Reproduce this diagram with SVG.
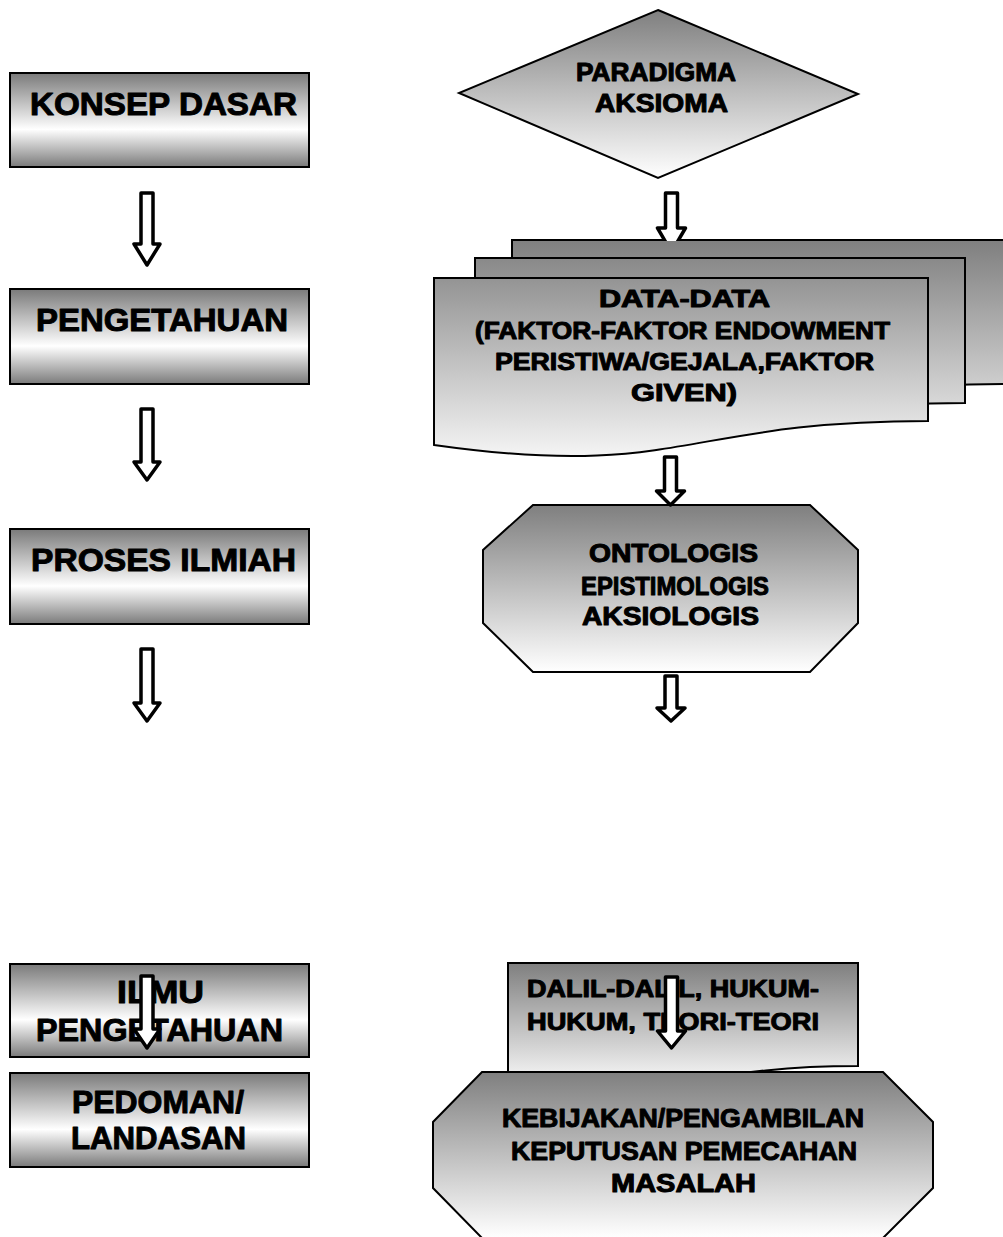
<svg xmlns="http://www.w3.org/2000/svg" width="1003" height="1237" viewBox="0 0 1003 1237">
  <defs>
    <!-- metallic band: gray edges, bright streak below the middle -->
    <linearGradient id="band" x1="0" y1="0" x2="0" y2="1">
      <stop offset="0" stop-color="#7a7a7a"/>
      <stop offset="0.6" stop-color="#ffffff"/>
      <stop offset="1" stop-color="#7a7a7a"/>
    </linearGradient>
    <!-- gray top fading to white bottom -->
    <linearGradient id="fade" x1="0" y1="0" x2="0" y2="1">
      <stop offset="0" stop-color="#7f7f7f"/>
      <stop offset="1" stop-color="#ffffff"/>
    </linearGradient>
    <!-- one shared fade across the stacked pages -->
    <linearGradient id="pages" gradientUnits="userSpaceOnUse" x1="0" y1="240" x2="0" y2="476">
      <stop offset="0" stop-color="#7f7f7f"/>
      <stop offset="1" stop-color="#ffffff"/>
    </linearGradient>
    <clipPath id="abovePages">
      <rect x="0" y="0" width="1003" height="241"/>
    </clipPath>
  </defs>
  <style>
    .box { fill: url(#band); stroke: #000; stroke-width: 2; }
    .shape { fill: url(#fade); stroke: #000; stroke-width: 2; stroke-linejoin: miter; }
    .page { fill: url(#pages); stroke: #000; stroke-width: 2; }
    .lbl { font-family: "Liberation Sans", Arial, sans-serif; font-weight: bold; fill: #000; stroke: #000; stroke-width: 1; stroke-linejoin: round; }
    .big { font-size: 32px; }
    .mid { font-size: 25px; }
    .sm { font-size: 23.5px; }
    .arrow { fill: #fff; stroke: #000; stroke-width: 3.5; stroke-linejoin: round; }
  </style>

  <rect width="1003" height="1237" fill="#ffffff"/>

  <!-- left column -->
  <g id="konsep-dasar">
    <rect class="box" x="10" y="73" width="299" height="94"/>
    <text class="lbl big" x="30" y="115" textLength="267" lengthAdjust="spacingAndGlyphs">KONSEP DASAR</text>
  </g>
  <g id="pengetahuan">
    <rect class="box" x="10" y="289" width="299" height="95"/>
    <text class="lbl big" x="36" y="331" textLength="252" lengthAdjust="spacingAndGlyphs">PENGETAHUAN</text>
  </g>
  <g id="proses-ilmiah">
    <rect class="box" x="10" y="529" width="299" height="95"/>
    <text class="lbl big" x="31" y="571" textLength="265" lengthAdjust="spacingAndGlyphs">PROSES ILMIAH</text>
  </g>
  <g id="ilmu-pengetahuan">
    <rect class="box" x="10" y="964" width="299" height="93"/>
    <text class="lbl big" x="117" y="1003" textLength="87" lengthAdjust="spacingAndGlyphs">ILMU</text>
    <text class="lbl big" x="36" y="1041" textLength="247" lengthAdjust="spacingAndGlyphs">PENGETAHUAN</text>
  </g>
  <g id="pedoman-landasan">
    <rect class="box" x="10" y="1073" width="299" height="94"/>
    <text class="lbl big" x="72" y="1113" textLength="172" lengthAdjust="spacingAndGlyphs">PEDOMAN/</text>
    <text class="lbl big" x="71" y="1149" textLength="175" lengthAdjust="spacingAndGlyphs">LANDASAN</text>
  </g>

  <!-- right column -->
  <g id="paradigma-aksioma">
    <polygon class="shape" points="658,10 858,94 658,178 459,93"/>
    <text class="lbl mid" x="576" y="81" textLength="160" lengthAdjust="spacingAndGlyphs">PARADIGMA</text>
    <text class="lbl mid" x="595" y="112" textLength="133" lengthAdjust="spacingAndGlyphs">AKSIOMA</text>
  </g>

  <g id="data-data">
    <path class="page" d="M512,240 H1006 V384 C759,384 759,439 512,408 Z"/>
    <path class="page" d="M475,258 H965 V403 C720,403 720,458 475,427 Z"/>
    <path class="page" d="M434,278 H928 V421 C681,421 681,480 434,445 Z"/>
    <text class="lbl sm" x="599" y="307" textLength="171" lengthAdjust="spacingAndGlyphs">DATA-DATA</text>
    <text class="lbl sm" x="475" y="339" textLength="415" lengthAdjust="spacingAndGlyphs">(FAKTOR-FAKTOR ENDOWMENT</text>
    <text class="lbl sm" x="495" y="370" textLength="379" lengthAdjust="spacingAndGlyphs">PERISTIWA/GEJALA,FAKTOR</text>
    <text class="lbl sm" x="631" y="401" textLength="106" lengthAdjust="spacingAndGlyphs">GIVEN)</text>
  </g>

  <g id="ontologis">
    <polygon class="shape" points="533,505 810,505 858,550 858,623 810,672 533,672 483,623 483,550"/>
    <text class="lbl mid" x="589" y="562" textLength="169" lengthAdjust="spacingAndGlyphs">ONTOLOGIS</text>
    <text class="lbl mid" x="581" y="595" textLength="188" lengthAdjust="spacingAndGlyphs">EPISTIMOLOGIS</text>
    <text class="lbl mid" x="582" y="625" textLength="177" lengthAdjust="spacingAndGlyphs">AKSIOLOGIS</text>
  </g>

  <g id="dalil-hukum-teori">
    <path class="shape" d="M508,963 H858 V1066 C683,1066 683,1105 508,1083 Z"/>
    <text class="lbl sm" x="527" y="997" textLength="292" lengthAdjust="spacingAndGlyphs">DALIL-DALIL, HUKUM-</text>
    <text class="lbl sm" x="527" y="1030" textLength="292" lengthAdjust="spacingAndGlyphs">HUKUM, TEORI-TEORI</text>
  </g>

  <g id="kebijakan">
    <polygon class="shape" points="482,1072 883,1072 933,1122 933,1188 883,1238 482,1238 433,1188 433,1122"/>
    <text class="lbl mid" x="502" y="1127" textLength="362" lengthAdjust="spacingAndGlyphs">KEBIJAKAN/PENGAMBILAN</text>
    <text class="lbl mid" x="511" y="1160" textLength="346" lengthAdjust="spacingAndGlyphs">KEPUTUSAN PEMECAHAN</text>
    <text class="lbl mid" x="611" y="1192" textLength="145" lengthAdjust="spacingAndGlyphs">MASALAH</text>
  </g>

  <!-- hollow block arrows -->
  <g id="connectors">
    <polygon class="arrow" points="141,193 153,193 153,244 160,244 147,265 134,244 141,244"/>
    <polygon class="arrow" points="141,409 153,409 153,462 160,462 147,480 134,462 141,462"/>
    <polygon class="arrow" points="141,649 153,649 153,703 160,703 147,721 134,703 141,703"/>
    <polygon class="arrow" points="141,976 153,976 153,1029 160,1029 147,1048 134,1029 141,1029"/>

    <polygon class="arrow" clip-path="url(#abovePages)" points="665.5,193 677.5,193 677.5,228 685.5,228 671.5,252 657.5,228 665.5,228"/>
    <polygon class="arrow" points="664.5,457 676.5,457 676.5,491 684.5,491 670.5,505 656.5,491 664.5,491"/>
    <polygon class="arrow" points="665,676 677,676 677,708 685,708 671,721 657,708 665,708"/>
    <polygon class="arrow" points="665.5,977 677.5,977 677.5,1031 685.5,1031 671.5,1048 657.5,1031 665.5,1031"/>
  </g>
</svg>
